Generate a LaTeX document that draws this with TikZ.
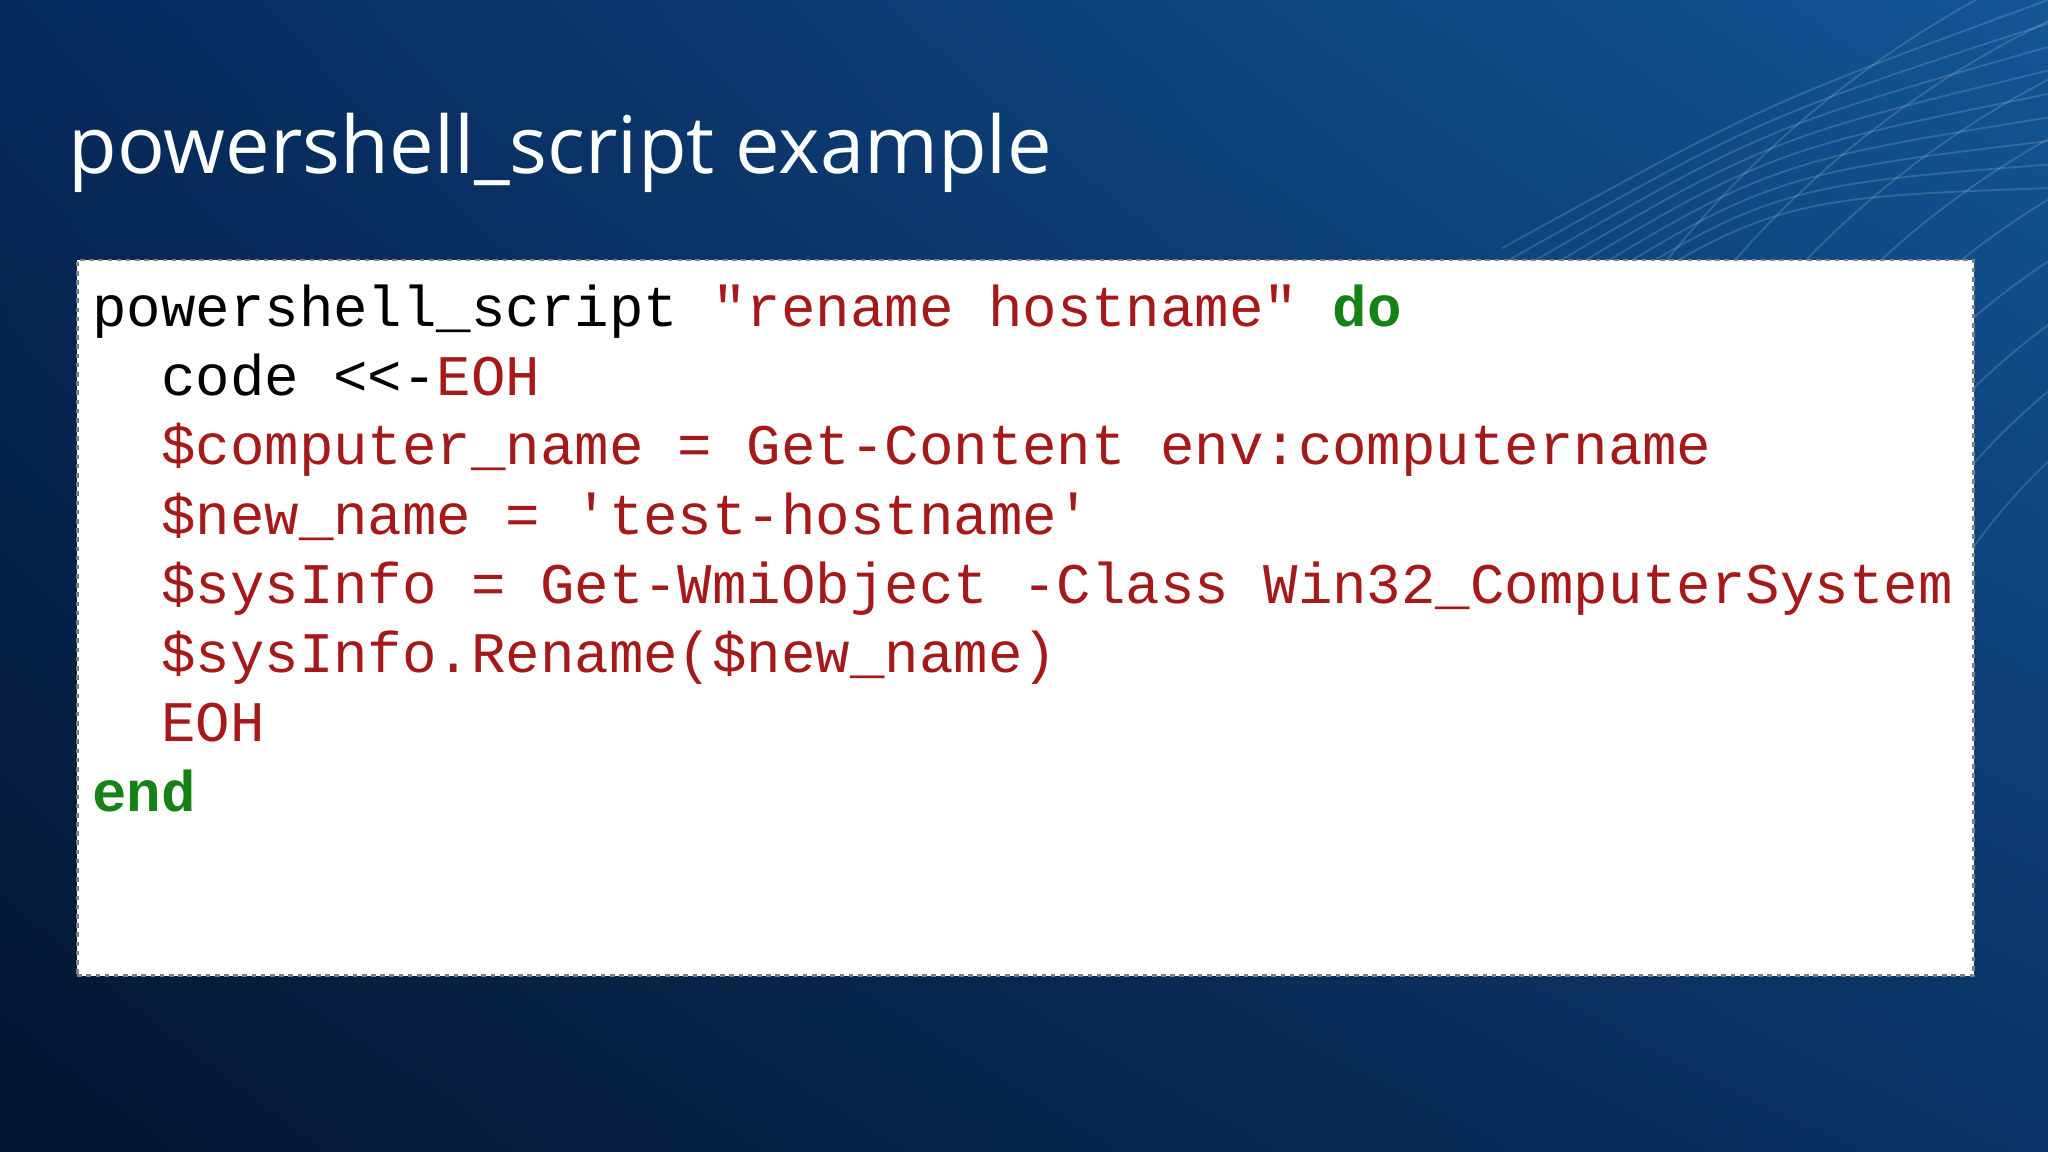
\documentclass[tikz,border=0pt]{standalone}
\usepackage{fontspec}
\setmainfont{Open Sans}
\newfontfamily\codefont{Liberation Mono}
\usetikzlibrary{shadings}
\definecolor{bgA}{RGB}{6,42,92}
\definecolor{bgB}{RGB}{20,85,150}
\definecolor{bgC}{RGB}{4,22,48}
\definecolor{bgD}{RGB}{10,50,100}
\definecolor{kw}{RGB}{20,130,20}
\definecolor{str}{RGB}{165,25,25}
\tikzset{
  codeline/.style={anchor=base west, inner sep=0pt, font=\codefont\fontsize{12.5}{15}\selectfont},
  arcline/.style={white, opacity=0.15, line width=0.4pt}
}
\begin{document}
\begin{tikzpicture}[x=0.01cm,y=-0.01cm]
\useasboundingbox (0,0) rectangle (1568,882);
\shade[upper left=bgA, upper right=bgB, lower left=bgC, lower right=bgD] (0,0) rectangle (1568,882);
\foreach \r in {480,520,...,800}{
  \draw[arcline] (1900,700) ++(190:\r) arc (190:260:\r);
}
\foreach \a in {0,30,...,240}{
  \draw[arcline] (1150,190+\a*0.4) .. controls (1350,80+\a*0.3) .. (1568,\a*0.6);
}
\node (title) [anchor=base west, inner sep=0pt, text=white, font=\fontsize{17.3}{21}\selectfont] at (52,133) {powershell\_script example};
\node (box) [draw=gray, fill=white, minimum width=1452*0.01cm, minimum height=548*0.01cm, anchor=north west, inner sep=0pt, line width=0.6pt, dash pattern=on 1pt off 1pt] at (58,198) {};
\node (l1) [codeline] at (70,250) {powershell\_script \textcolor{str}{"rename hostname"} \textcolor{kw}{\bfseries do}};
\node (l2) [codeline] at (70,303) {\ \ code <<-\textcolor{str}{EOH}};
\node (l3) [codeline, text=str] at (70,356) {\ \ \$computer\_name = Get-Content env:computername};
\node (l4) [codeline, text=str] at (70,409) {\ \ \$new\_name = 'test-hostname'};
\node (l5) [codeline, text=str] at (70,462) {\ \ \$sysInfo = Get-WmiObject -Class Win32\_ComputerSystem};
\node (l6) [codeline, text=str] at (70,515) {\ \ \$sysInfo.Rename(\$new\_name)};
\node (l7) [codeline, text=str] at (70,568) {\ \ EOH};
\node (l8) [codeline, text=kw, font=\codefont\bfseries\fontsize{12.5}{15}\selectfont] at (70,621) {end};
\end{tikzpicture}
\end{document}
